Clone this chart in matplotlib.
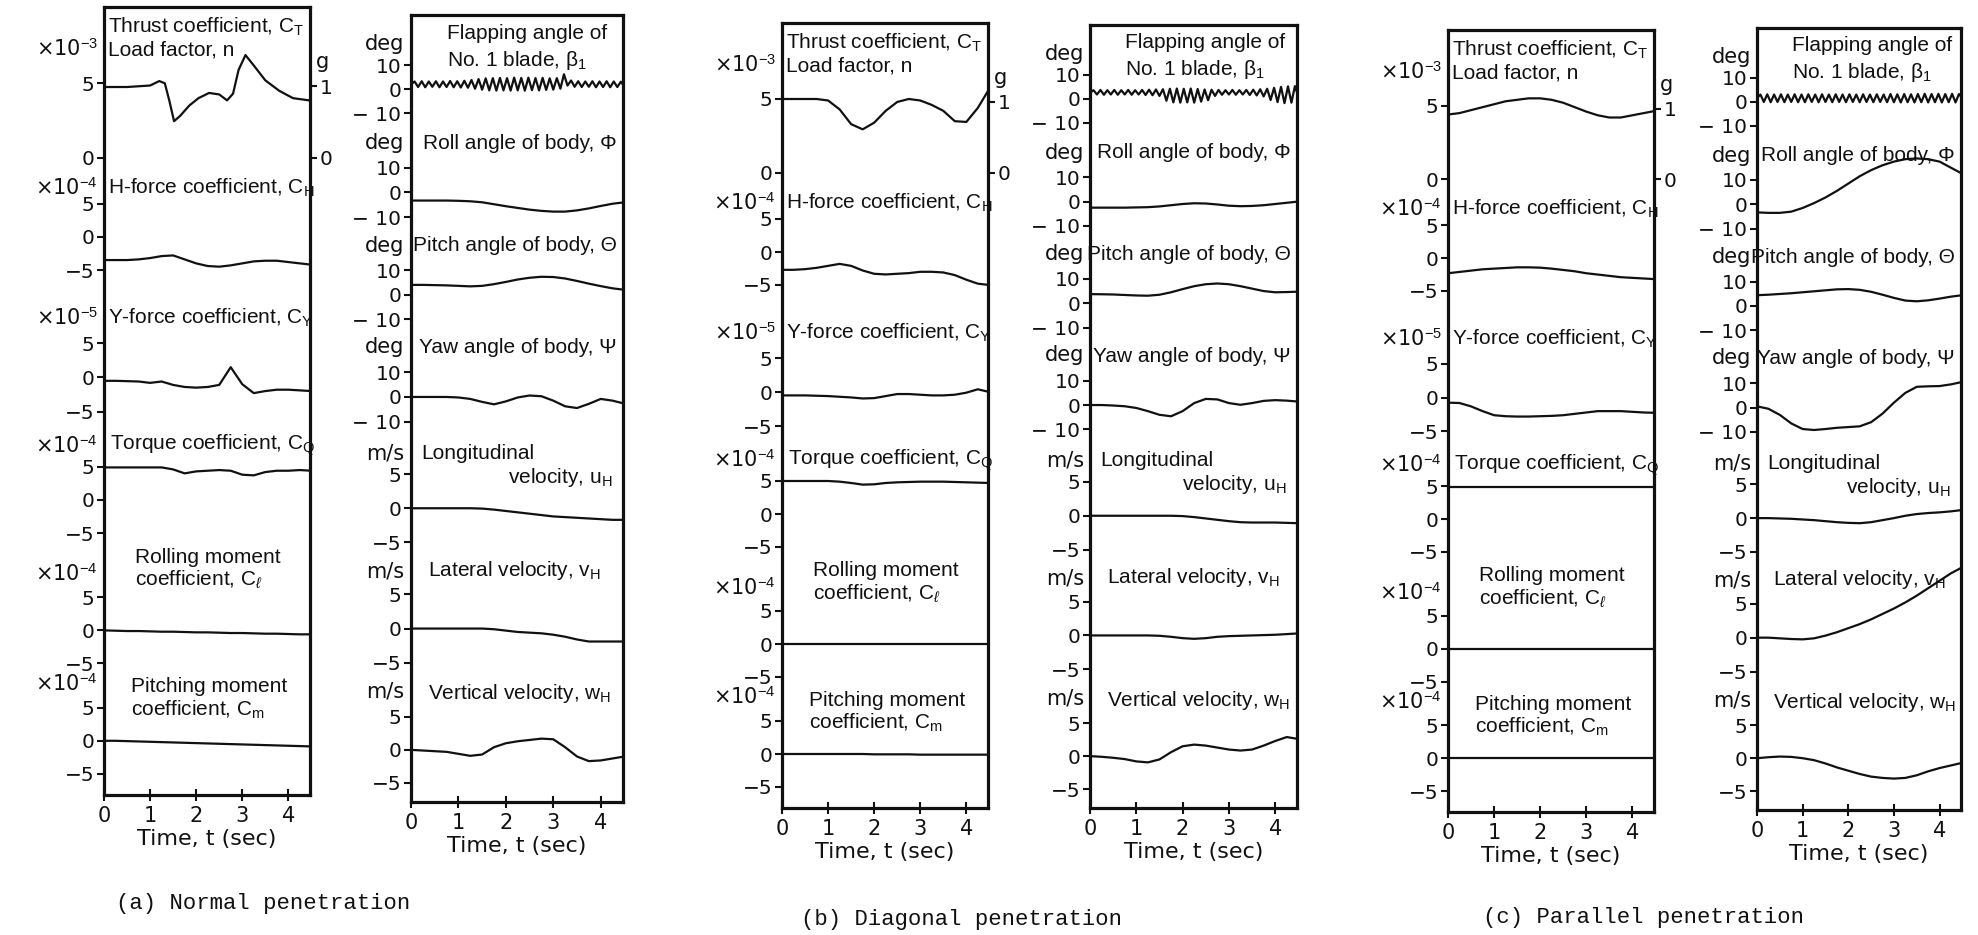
import numpy as np
import matplotlib.pyplot as plt

plt.rcParams["font.family"] = ["DejaVu Sans"]
plt.rcParams["mathtext.fontset"] = "custom"
plt.rcParams["mathtext.rm"] = "Liberation Sans"
plt.rcParams["mathtext.it"] = "Liberation Sans:italic"

# common time grid (sec) for the smooth traces
T = [0.0, 0.25, 0.5, 0.75, 1.0, 1.25, 1.5, 1.75, 2.0, 2.25, 2.5, 2.75,
     3.0, 3.25, 3.5, 3.75, 4.0, 4.25, 4.5]

# ---- (a) normal penetration ----
a_ct_t = [0, 0.5, 1.0, 1.2, 1.32, 1.42, 1.52, 1.65, 1.85, 2.05, 2.28, 2.5,
          2.67, 2.8, 2.92, 3.07, 3.25, 3.5, 3.8, 4.1, 4.45]
a_ct = [4.75, 4.75, 4.85, 5.15, 5.0, 3.8, 2.45, 2.8, 3.5, 4.0, 4.35, 4.25,
        3.85, 4.3, 5.9, 6.9, 6.2, 5.2, 4.5, 4.0, 3.85]
a_ch = [-3.5, -3.5, -3.5, -3.4, -3.2, -2.9, -2.8, -3.4, -4.0, -4.4, -4.5, -4.3,
        -4.0, -3.7, -3.6, -3.6, -3.8, -4.0, -4.2]
a_cy = [-0.5, -0.5, -0.55, -0.6, -0.8, -0.6, -1.1, -1.4, -1.5, -1.4, -1.1, 1.5,
        -1.0, -2.3, -2.0, -1.8, -1.8, -1.9, -2.0]
a_cq = [4.9, 4.9, 4.9, 4.9, 4.9, 4.9, 4.6, 4.0, 4.3, 4.4, 4.5, 4.4,
        3.8, 3.7, 4.2, 4.4, 4.4, 4.5, 4.4]
a_cl = [0.0, -0.05, -0.1, -0.1, -0.15, -0.2, -0.2, -0.25, -0.3, -0.3, -0.35, -0.4,
        -0.4, -0.45, -0.5, -0.5, -0.55, -0.6, -0.6]
a_cm = [0.0, 0.0, -0.05, -0.1, -0.15, -0.2, -0.25, -0.3, -0.35, -0.4, -0.45, -0.5,
        -0.55, -0.6, -0.65, -0.7, -0.75, -0.8, -0.85]
a_beta = [2.0, 3.2, 0.9, 3.3, 0.8, 3.2, 1.0, 3.3, 0.8, 3.2,
          0.9, 3.4, 0.8, 3.3, 0.7, 3.5, 0.6, 3.8, 0.2, 4.2,
          -0.2, 4.5, -0.5, 4.6, -0.6, 4.7, -0.5, 4.6, -0.6, 4.8,
          -0.5, 4.7, -0.6, 4.8, -0.4, 4.6, -0.5, 4.7, -0.3, 4.5,
          -0.2, 4.6, 0.2, 6.2, 1.5, 3.6, 1.0, 3.3, 0.9, 3.2,
          1.0, 3.3, 0.8, 3.2, 0.9, 3.3, 0.8, 3.2, 0.9, 3.1, 1.0]
a_roll = [-3.3, -3.3, -3.3, -3.3, -3.4, -3.6, -4.0, -4.8, -5.6, -6.3, -7.0, -7.5,
          -7.8, -7.8, -7.3, -6.5, -5.5, -4.6, -4.0]
a_pitch = [4.0, 4.0, 3.9, 3.8, 3.6, 3.4, 3.6, 4.3, 5.2, 6.2, 6.9, 7.3,
           7.2, 6.6, 5.6, 4.5, 3.5, 2.6, 2.0]
a_yaw = [0.0, 0.0, 0.0, 0.0, -0.2, -0.8, -2.0, -3.0, -1.8, -0.2, 0.6, 0.3,
         -1.5, -3.8, -4.5, -2.8, -0.8, -1.5, -2.7]
a_u = [0.0, 0.0, 0.0, 0.0, 0.0, 0.0, -0.05, -0.2, -0.4, -0.6, -0.8, -1.0,
       -1.2, -1.3, -1.4, -1.5, -1.6, -1.7, -1.7]
a_v = [0.0, 0.0, 0.0, 0.0, 0.0, 0.0, 0.0, -0.1, -0.3, -0.5, -0.6, -0.7,
       -0.9, -1.2, -1.6, -1.9, -1.9, -1.9, -1.9]
a_w = [0.0, -0.1, -0.2, -0.3, -0.6, -0.9, -0.7, 0.4, 1.0, 1.3, 1.5, 1.7,
       1.6, 0.4, -1.0, -1.7, -1.6, -1.3, -1.0]

# ---- (b) diagonal penetration ----
b_ct = [5.0, 5.0, 5.0, 5.0, 4.9, 4.3, 3.3, 2.95, 3.4, 4.2, 4.8, 5.0,
        4.9, 4.6, 4.2, 3.5, 3.45, 4.4, 5.7]
b_ch = [-2.7, -2.7, -2.6, -2.4, -2.1, -1.8, -2.1, -2.8, -3.3, -3.4, -3.3, -3.2,
        -3.0, -3.0, -3.1, -3.5, -4.2, -4.8, -5.0]
b_cy = [-0.5, -0.5, -0.5, -0.55, -0.6, -0.7, -0.8, -0.95, -0.9, -0.6, -0.3, -0.3,
        -0.4, -0.5, -0.5, -0.4, -0.1, 0.4, 0.0]
b_cq = [5.0, 5.0, 5.0, 5.0, 5.0, 4.9, 4.7, 4.45, 4.5, 4.7, 4.8, 4.85,
        4.9, 4.9, 4.9, 4.85, 4.8, 4.75, 4.7]
b_cl = [0.0, 0.0, 0.0, 0.0, 0.0, 0.0, 0.0, 0.0, 0.0, 0.0, 0.0, 0.0,
        0.0, 0.0, 0.0, 0.0, 0.0, 0.0, 0.0]
b_cm = [0.0, 0.0, 0.0, 0.0, 0.0, 0.0, 0.0, 0.0, -0.05, -0.05, -0.05, -0.05,
        -0.1, -0.1, -0.1, -0.1, -0.1, -0.1, -0.1]
b_beta = [2.5, 3.6, 1.8, 3.7, 1.7, 3.6, 1.8, 3.7, 1.7, 3.6,
          1.8, 3.7, 1.7, 3.6, 1.8, 3.7, 1.6, 3.8, 1.5, 3.9,
          1.2, 4.0, -0.8, 4.2, -1.5, 4.3, -1.6, 4.2, -1.5, 4.3,
          -1.6, 4.1, -1.2, 3.9, -0.6, 3.8, 1.2, 3.7, 1.7, 3.6,
          1.8, 3.7, 1.7, 3.6, 1.8, 3.7, 1.6, 3.8, 1.4, 4.0,
          1.0, 4.2, -0.5, 4.6, -1.4, 5.0, -1.8, 5.2, -1.6, 5.3, 1.0]
b_roll = [-2.5, -2.5, -2.5, -2.5, -2.4, -2.3, -2.0, -1.5, -1.0, -0.7, -0.8, -1.2,
          -1.7, -1.9, -1.8, -1.5, -1.0, -0.5, 0.0]
b_pitch = [3.75, 3.7, 3.6, 3.4, 3.2, 3.1, 3.5, 4.5, 5.8, 7.0, 7.8, 8.1,
           7.8, 7.0, 6.0, 5.0, 4.5, 4.6, 4.75]
b_yaw = [0.0, 0.0, -0.2, -0.5, -1.2, -2.5, -4.0, -4.6, -2.5, 0.8, 2.5, 2.3,
         0.8, 0.1, 0.8, 1.7, 2.0, 1.8, 1.4]
b_u = [0.0, 0.0, 0.0, 0.0, 0.0, 0.0, 0.0, 0.0, -0.05, -0.2, -0.4, -0.6,
       -0.8, -0.95, -1.0, -1.0, -1.0, -1.05, -1.1]
b_v = [0.0, 0.0, 0.0, 0.0, 0.0, 0.0, -0.05, -0.2, -0.4, -0.5, -0.4, -0.2,
       -0.1, -0.05, 0.0, 0.05, 0.1, 0.2, 0.3]
b_w = [0.0, -0.1, -0.25, -0.45, -0.8, -0.95, -0.5, 0.6, 1.5, 1.75, 1.6, 1.3,
       1.0, 0.85, 1.0, 1.6, 2.3, 2.9, 2.6]

# ---- (c) parallel penetration ----
c_ct = [4.4, 4.5, 4.7, 4.9, 5.1, 5.3, 5.4, 5.5, 5.5, 5.4, 5.2, 4.9,
        4.6, 4.35, 4.2, 4.2, 4.35, 4.5, 4.65]
c_ch = [-2.3, -2.1, -1.9, -1.7, -1.6, -1.5, -1.4, -1.4, -1.45, -1.6, -1.8, -2.0,
        -2.3, -2.5, -2.7, -2.9, -3.0, -3.1, -3.2]
c_cy = [-0.75, -0.8, -1.3, -2.0, -2.6, -2.75, -2.8, -2.8, -2.75, -2.7, -2.6, -2.4,
        -2.2, -2.0, -2.0, -2.0, -2.1, -2.2, -2.25]
c_cq = [4.9, 4.9, 4.9, 4.9, 4.9, 4.9, 4.9, 4.9, 4.9, 4.9, 4.9, 4.9,
        4.9, 4.9, 4.9, 4.9, 4.9, 4.9, 4.9]
c_cl = [0.0, 0.0, 0.0, 0.0, 0.0, 0.0, 0.0, 0.0, 0.0, 0.0, 0.0, 0.0,
        0.0, 0.0, 0.0, 0.0, 0.0, 0.0, 0.0]
c_cm = [0.0, 0.0, 0.0, 0.0, 0.0, 0.0, 0.0, 0.0, 0.0, 0.0, 0.0, 0.0,
        0.0, 0.0, 0.0, 0.0, 0.0, 0.0, 0.0]
c_beta = [1.5, 3.0, -0.1, 3.1, -0.2, 3.0, -0.1, 3.1, -0.2, 3.0,
          -0.1, 3.1, -0.2, 3.0, -0.2, 3.1, -0.1, 3.0, -0.2, 3.1,
          -0.1, 3.0, -0.2, 3.1, -0.1, 3.0, -0.2, 3.1, -0.1, 3.0,
          -0.2, 3.1, -0.1, 3.0, -0.2, 3.1, -0.1, 3.0, -0.2, 3.2,
          -0.2, 3.1, -0.3, 3.2, -0.2, 3.1, -0.3, 3.2, -0.2, 3.3,
          -0.3, 3.2, -0.2, 3.3, -0.3, 3.2, -0.2, 3.3, -0.3, 3.2, 1.5]
c_roll = [-3.3, -3.5, -3.5, -3.0, -1.5, 0.5, 2.8, 5.5, 8.5, 11.5, 14.0, 16.0,
          17.5, 18.5, 18.8, 18.5, 17.5, 15.0, 12.5]
c_pitch = [4.4, 4.6, 4.9, 5.2, 5.6, 6.0, 6.4, 6.8, 6.9, 6.6, 5.8, 4.6,
           3.3, 2.2, 1.9, 2.3, 3.0, 3.8, 4.4]
c_yaw = [0.5, -0.5, -3.0, -6.5, -8.8, -9.2, -8.8, -8.3, -8.0, -7.7, -6.0, -2.5,
         2.0, 6.0, 8.5, 8.7, 8.8, 9.5, 10.5]
c_u = [0.0, 0.0, -0.05, -0.1, -0.2, -0.3, -0.45, -0.6, -0.7, -0.75, -0.6, -0.3,
       0.0, 0.35, 0.6, 0.75, 0.85, 1.0, 1.2]
c_v = [0.0, 0.0, -0.1, -0.2, -0.25, -0.1, 0.3, 0.8, 1.4, 2.0, 2.7, 3.5,
       4.3, 5.2, 6.2, 7.3, 8.4, 9.5, 10.4]
c_w = [0.0, 0.15, 0.25, 0.2, 0.0, -0.3, -0.8, -1.4, -1.9, -2.4, -2.8, -3.0,
       -3.1, -3.0, -2.6, -2.0, -1.5, -1.1, -0.7]

beta_t = np.linspace(0, 4.5, len(a_beta))

# ---- layout (pixel based, box height BOX) ----
FW, FH = 1978, 935
BOX = 785
LEFT_BLOCKS = [  # zero row, px per unit, tick values, tick labels, unit, unit row
    (150, 14.8, [5, 0], ["5", "0"], "×10$^{-3}$", 42),
    (229, 6.6, [5, 0, -5], ["5", "0", "−5"], "×10$^{-4}$", 180),
    (369, 6.8, [5, 0, -5], ["5", "0", "−5"], "×10$^{-5}$", 310),
    (491, 6.6, [5, 0, -5], ["5", "0", "−5"], "×10$^{-4}$", 437),
    (621, 6.6, [5, 0, -5], ["5", "0", "−5"], "×10$^{-4}$", 565),
    (731, 6.6, [5, 0, -5], ["5", "0", "−5"], "×10$^{-4}$", 674),
]
RIGHT_BLOCKS = [
    (74, 2.4, [10, 0, -10], ["10", "0", "− 10"], "deg", 29),
    (177, 2.45, [10, 0, -10], ["10", "0", "− 10"], "deg", 128),
    (279, 2.45, [10, 0, -10], ["10", "0", "− 10"], "deg", 230),
    (381, 2.45, [10, 0, -10], ["10", "0", "− 10"], "deg", 331),
    (492, 6.8, [5, 0, -5], ["5", "0", "−5"], "m/s", 437),
    (612, 6.8, [5, 0, -5], ["5", "0", "−5"], "m/s", 555),
    (733, 6.6, [5, 0, -5], ["5", "0", "−5"], "m/s", 675),
]
LEFT_TEXT = [
    (0.02, 20, "Thrust coefficient, C$_\\mathrm{T}$", "left"),
    (0.02, 43, "Load factor, n", "left"),
    (0.02, 180, "H-force coefficient, C$_\\mathrm{H}$", "left"),
    (0.02, 310, "Y-force coefficient, C$_\\mathrm{Y}$", "left"),
    (0.03, 437, "Torque coefficient, C$_\\mathrm{Q}$", "left"),
    (0.15, 548, "Rolling moment", "left"),
    (0.15, 571, "coefficient, C$_\\ell$", "left"),
    (0.13, 677, "Pitching moment", "left"),
    (0.13, 700, "coefficient, C$_\\mathrm{m}$", "left"),
]
RIGHT_TEXT = [
    (0.17, 18, "Flapping angle of", "left"),
    (0.17, 45, "No. 1 blade, β$_1$", "left"),
    (0.97, 128, "Roll angle of body, Φ", "right"),
    (0.97, 230, "Pitch angle of body, Θ", "right"),
    (0.97, 332, "Yaw angle of body, Ψ", "right"),
    (0.05, 437, "Longitudinal", "left"),
    (0.95, 461, "velocity, u$_\\mathrm{H}$", "right"),
    (0.08, 554, "Lateral velocity, v$_\\mathrm{H}$", "left"),
    (0.08, 677, "Vertical velocity, w$_\\mathrm{H}$", "left"),
]
INK = "#111111"

fig = plt.figure(figsize=(FW / 100, FH / 100), dpi=100)


def column(box, blocks, traces, texts, load_axis=False):
    x0, x1, y0, y1 = box
    ax = fig.add_axes([x0 / FW, 1 - y1 / FH, (x1 - x0) / FW, (y1 - y0) / FH])
    ax.set_xlim(0, 4.47)
    ax.set_ylim(0, BOX)
    side = ax.get_yaxis_transform()
    ticks, labels = [], []
    for (zero, k, tv, tl, unit, unit_row), (t, v) in zip(blocks, traces):
        base = BOX - zero
        ax.plot(t, base + np.asarray(v) * k, color=INK, lw=1.6)
        ticks += [base + val * k for val in tv]
        labels += tl
        ax.text(-0.03, BOX - unit_row, unit, transform=side, ha="right",
                va="center", fontsize=15, color=INK)
    ax.set_yticks(ticks, labels)
    ax.set_xticks([0, 1, 2, 3, 4])
    ax.tick_params(axis="y", direction="out", length=5, width=1.5, pad=2,
                   labelsize=14.5, colors=INK)
    ax.tick_params(axis="x", direction="inout", length=8, width=1.5, pad=4,
                   labelsize=15, colors=INK)
    ax.set_xlabel("Time, t (sec)", fontsize=16, labelpad=2, color=INK)
    for sp in ax.spines.values():
        sp.set_linewidth(2.3)
        sp.set_color(INK)
    for x, row, txt, ha in texts:
        ax.text(x, BOX - row, txt, transform=side, ha=ha, va="center",
                fontsize=15, family=["Liberation Sans", "DejaVu Sans"], color=INK)
    if load_axis:
        zero, k = blocks[0][0], blocks[0][1]
        tw = ax.twinx()
        tw.set_ylim(0, BOX)
        tw.set_yticks([BOX - zero + 4.8 * k, BOX - zero], ["1", "0"])
        tw.tick_params(direction="out", length=5, width=1.5, pad=2, labelsize=14.5,
                       colors=INK)
        for sp in tw.spines.values():
            sp.set_visible(False)
        tw.text(1.03, BOX - 55, "g", transform=tw.get_yaxis_transform(),
                ha="left", va="center", fontsize=15, color=INK)
    return ax


panels = [
    ((104, 310, 7, 795), (411, 623, 15, 802),
     [(a_ct_t, a_ct), (T, a_ch), (T, a_cy), (T, a_cq), (T, a_cl), (T, a_cm)],
     [(beta_t, a_beta), (T, a_roll), (T, a_pitch), (T, a_yaw), (T, a_u), (T, a_v), (T, a_w)]),
    ((782, 988, 23, 808), (1090, 1297, 25, 808),
     [(T, b_ct), (T, b_ch), (T, b_cy), (T, b_cq), (T, b_cl), (T, b_cm)],
     [(beta_t, b_beta), (T, b_roll), (T, b_pitch), (T, b_yaw), (T, b_u), (T, b_v), (T, b_w)]),
    ((1448, 1654, 30, 812), (1757, 1961, 28, 810),
     [(T, c_ct), (T, c_ch), (T, c_cy), (T, c_cq), (T, c_cl), (T, c_cm)],
     [(beta_t, c_beta), (T, c_roll), (T, c_pitch), (T, c_yaw), (T, c_u), (T, c_v), (T, c_w)]),
]
for lbox, rbox, ltr, rtr in panels:
    column(lbox, LEFT_BLOCKS, ltr, LEFT_TEXT, load_axis=True)
    column(rbox, RIGHT_BLOCKS, rtr, RIGHT_TEXT)

captions = [(116, 903, "(a) Normal penetration"),
            (801, 920, "(b) Diagonal penetration"),
            (1483, 917, "(c) Parallel penetration")]
for x, y, txt in captions:
    fig.text(x / FW, 1 - y / FH, txt, ha="left", va="center", fontsize=16,
             family=["Liberation Mono", "DejaVu Sans Mono"], color=INK)

fig.savefig("out.png", dpi=100)
